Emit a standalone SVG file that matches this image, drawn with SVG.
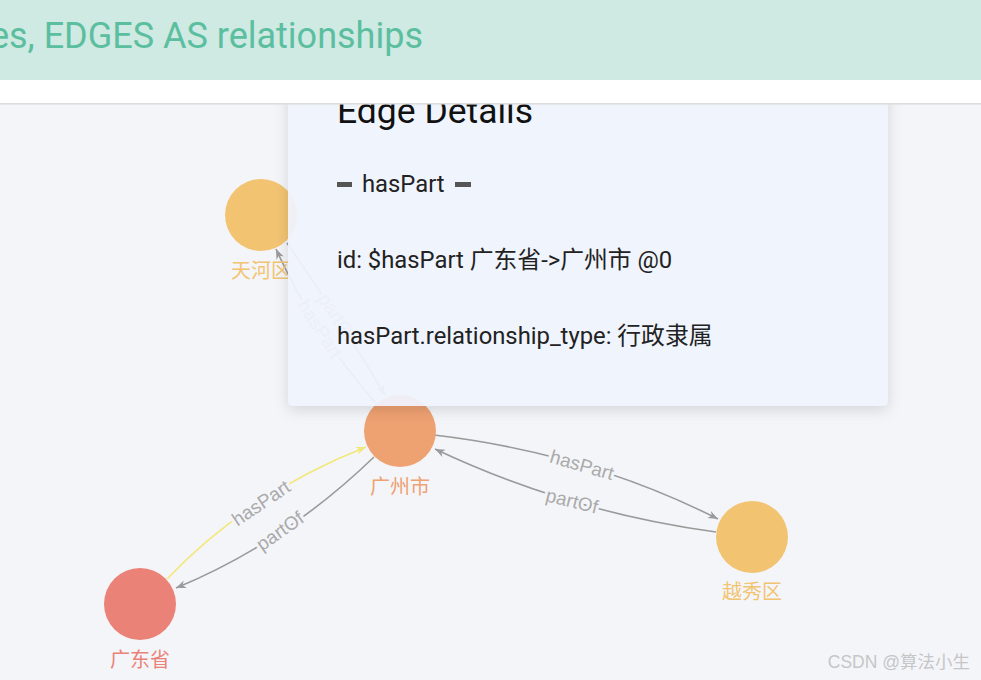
<svg xmlns="http://www.w3.org/2000/svg" width="981" height="680" viewBox="0 0 981 680">
<defs>
<style>
.edge{fill:none;stroke:#9a9a9a;stroke-width:1.6}
.edge.hl{stroke:#f3e77a}
.elab{font-family:"Liberation Sans","Noto Sans CJK SC",sans-serif;font-size:19px;fill:#aaaaaa;stroke:#f4f5f9;stroke-width:6;paint-order:stroke;stroke-linejoin:round;text-anchor:middle;dominant-baseline:central}
.nlab{font-family:"Noto Sans CJK SC",sans-serif;font-size:20px;text-anchor:middle}
.ptxt{font-family:Roboto,"Noto Sans CJK SC",sans-serif;fill:#222;font-size:23.8px}
</style>
<marker id="ag" markerUnits="userSpaceOnUse" markerWidth="11" markerHeight="9" refX="10" refY="4" orient="auto" overflow="visible">
<path d="M0,0 L10,4 L0,8 L3,4 z" fill="#9a9a9a"/>
</marker>
<marker id="ay" markerUnits="userSpaceOnUse" markerWidth="11" markerHeight="9" refX="10" refY="4" orient="auto" overflow="visible">
<path d="M0,0 L10,4 L0,8 L3,4 z" fill="#f3e77a"/>
</marker>
<filter id="sh" x="-10%" y="-10%" width="120%" height="130%">
<feDropShadow dx="0" dy="4" stdDeviation="7" flood-color="#000" flood-opacity="0.14"/>
</filter>
</defs>
<rect x="0" y="0" width="981" height="680" fill="#f4f5f9"/>
<g id="connectors">
<path class="edge hl" d="M167,579 Q249,493 366,447" marker-end="url(#ay)"/>
<path class="edge" d="M374,457 Q285,543 176,588" marker-end="url(#ag)"/>
<path class="edge" d="M434,435 Q588,453 718,519" marker-end="url(#ag)"/>
<path class="edge" d="M716,532 Q568,512 435,449" marker-end="url(#ag)"/>
<path class="edge" d="M375,402 Q314,333 276,249" marker-end="url(#ag)"/>
<path class="edge" d="M287,243 Q338,316 385,395" marker-end="url(#ag)"/>
<text class="elab" transform="translate(261,503) rotate(-34)">hasPart</text>
<text class="elab" transform="translate(280,531) rotate(-35)">partOf</text>
<text class="elab" transform="translate(582,465) rotate(16)">hasPart</text>
<text class="elab" transform="translate(572,501) rotate(14)">partOf</text>
<text class="elab" transform="translate(320,329) rotate(57)">hasPart</text>
<text class="elab" transform="translate(337,317) rotate(57)">partOf</text>
</g>
<g id="node-tianhe">
<circle cx="261" cy="215" r="36" fill="#f2c472"/>
<text class="nlab" x="261" y="278" fill="#f2c472">天河区</text>
</g>
<g id="node-guangzhou">
<circle cx="400" cy="431" r="36" fill="#eea171"/>
<text class="nlab" x="400" y="494" fill="#eea171">广州市</text>
</g>
<g id="node-yuexiu">
<circle cx="752" cy="537" r="36" fill="#f2c472"/>
<text class="nlab" x="752" y="599" fill="#f2c472">越秀区</text>
</g>
<g id="node-guangdong">
<circle cx="140" cy="604" r="36" fill="#ea8278"/>
<text class="nlab" x="140" y="667" fill="#ea8278">广东省</text>
</g>
<g id="panel">
<rect x="288" y="60" width="600" height="346" rx="5" fill="#f1f4fe" fill-opacity="0.93" filter="url(#sh)"/>
<text x="337" y="123" font-family="Roboto,sans-serif" font-size="35.5" fill="#111">Edge Details</text>
<rect x="337" y="182" width="15" height="5" fill="#555"/>
<text class="ptxt" x="362" y="192">hasPart</text>
<rect x="455" y="182" width="16" height="5" fill="#555"/>
<text class="ptxt" x="337" y="268">id: $hasPart 广东省-&gt;广州市 @0</text>
<text class="ptxt" x="337" y="344">hasPart.relationship_type: 行政隶属</text>
</g>
<g id="header">
<rect x="0" y="0" width="981" height="80" fill="#cfe9e3"/>
<rect x="0" y="80" width="981" height="23" fill="#ffffff"/>
<rect x="0" y="103" width="981" height="1.6" fill="#dcdcdc"/>
<text x="423" y="48" text-anchor="end" font-family="Roboto,sans-serif" font-size="36" fill="#5bbf9f">es, EDGES AS relationships</text>
</g>
<text x="970" y="668" text-anchor="end" font-family="'Liberation Sans','Noto Sans CJK SC',sans-serif" font-size="17.5" fill="#c6c6c6">CSDN @算法小生</text>
</svg>
